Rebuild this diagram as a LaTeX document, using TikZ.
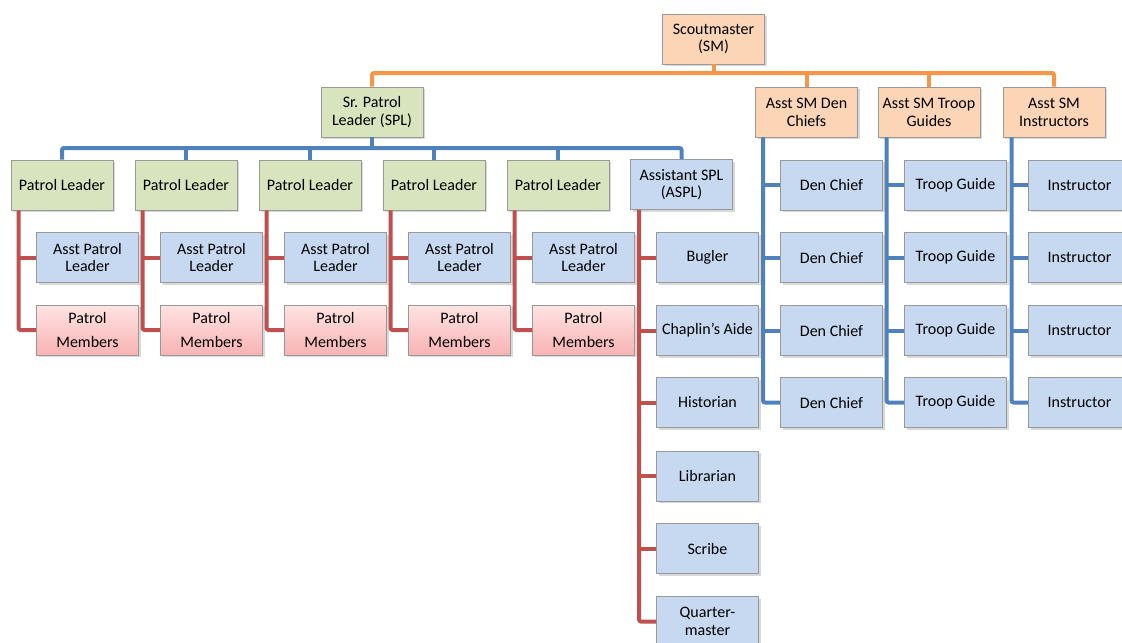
\documentclass[tikz,border=0pt]{standalone}
\usepackage{fontspec}
\setmainfont{Carlito}
\usetikzlibrary{shadows,calc}
\definecolor{boxO}{HTML}{FBD5B5}
\definecolor{boxG}{HTML}{D7E4BD}
\definecolor{boxB}{HTML}{C6D9F1}
\definecolor{pinkT}{HTML}{FFE3E3}
\definecolor{pinkB}{HTML}{F8B3B3}
\definecolor{lineO}{HTML}{F79646}
\definecolor{lineB}{HTML}{4F81BD}
\definecolor{lineR}{HTML}{C0504D}
\begin{document}
\begin{tikzpicture}[x=0.75pt,y=-0.75pt,
  box/.style={draw=black!40, line width=0.6pt, minimum width=76.5pt, minimum height=37.5pt,
    inner sep=1pt, align=center, font=\fontsize{12}{13.3}\selectfont,
    drop shadow={shadow xshift=1.8pt, shadow yshift=-1.8pt, opacity=0.3}},
  obox/.style={box, fill=boxO},
  gbox/.style={box, fill=boxG},
  bbox/.style={box, fill=boxB},
  pbox/.style={box, top color=pinkT, bottom color=pinkB},
  ln/.style={line width=3pt, rounded corners=1.5pt},
  oline/.style={ln, draw=lineO},
  bline/.style={ln, draw=lineB},
  rline/.style={ln, draw=lineR}]
\useasboundingbox (0,0) rectangle (1122,643);

% top level
\node[obox] (sm) at (713.5,39) {Scoutmaster\\(SM)};
\node[gbox] (spl) at (372,112) {Sr. Patrol\\Leader (SPL)};
\node[obox] (ad) at (806.5,112) {Asst SM Den\\Chiefs};
\node[obox] (at) at (929,112) {Asst SM Troop\\Guides};
\node[obox] (ai) at (1054,112) {Asst SM\\Instructors};

\coordinate (ob) at (0,73);
\draw[oline] (sm.south) -- (sm.south |- ob);
\draw[oline] (spl.north) |- (ai.north |- ob) -- (ai.north);
\draw[oline] (ad.north |- ob) -- (ad.north);
\draw[oline] (at.north |- ob) -- (at.north);

% patrols
\foreach \i in {0,...,4} {
  \pgfmathsetmacro\cx{62+124*\i}
  \node[gbox] (pl\i) at (\cx,185) {Patrol Leader};
  \node[bbox] (apl\i) at (\cx+25.5,257.5) {Asst Patrol\\Leader};
  \node[pbox] (pm\i) at (\cx+25.5,330) {Patrol\\[5.4pt]Members};
  \draw[rline] ($(pl\i.south west)+(8,0)$) coordinate (v\i) |- (pm\i.west);
  \draw[rline] (apl\i.west) -- (apl\i.west -| v\i);
}

% ASPL
\node[bbox] (aspl) at (681.5,184.5) {Assistant SPL\\(ASPL)};
\node[bbox] (c1) at (707.5,257.5) {Bugler};
\node[bbox] (c2) at (707.5,330.5) {Chaplin’s Aide};
\node[bbox] (c3) at (707.5,402.5) {Historian};
\node[bbox] (c4) at (707.5,476) {Librarian};
\node[bbox] (c5) at (707.5,548.5) {Scribe};
\node[bbox] (c6) at (707.5,621.5) {Quarter-\\master};
\draw[rline] ($(aspl.south west)+(9,0)$) coordinate (va) |- (c6.west);
\foreach \k in {1,...,5} \draw[rline] (c\k.west) -- (c\k.west -| va);

% SPL bus
\coordinate (bb) at (0,148);
\draw[bline] (spl.south) -- (spl.south |- bb);
\draw[bline] (pl0.north) |- (aspl.north |- bb) -- (aspl.north);
\foreach \i in {1,...,4} \draw[bline] (pl\i.north |- bb) -- (pl\i.north);

% assistant SM columns
\foreach \y [count=\j] in {185,257.5,330.5,402.5} {
  \node[bbox] (dc\j) at (831.5,\y) {Den Chief};
  \node[bbox] (tg\j) at (955.5,\y) {Troop Guide};
  \node[bbox] (in\j) at (1079.5,\y) {Instructor};
}
\draw[bline] ($(ad.south west)+(8,0)$) coordinate (vd) |- (dc4.west);
\draw[bline] ($(at.south west)+(9,0)$) coordinate (vt) |- (tg4.west);
\draw[bline] ($(ai.south west)+(9,0)$) coordinate (vi) |- (in4.west);
\foreach \j in {1,2,3} {
  \draw[bline] (dc\j.west) -- (dc\j.west -| vd);
  \draw[bline] (tg\j.west) -- (tg\j.west -| vt);
  \draw[bline] (in\j.west) -- (in\j.west -| vi);
}
\end{tikzpicture}
\end{document}
